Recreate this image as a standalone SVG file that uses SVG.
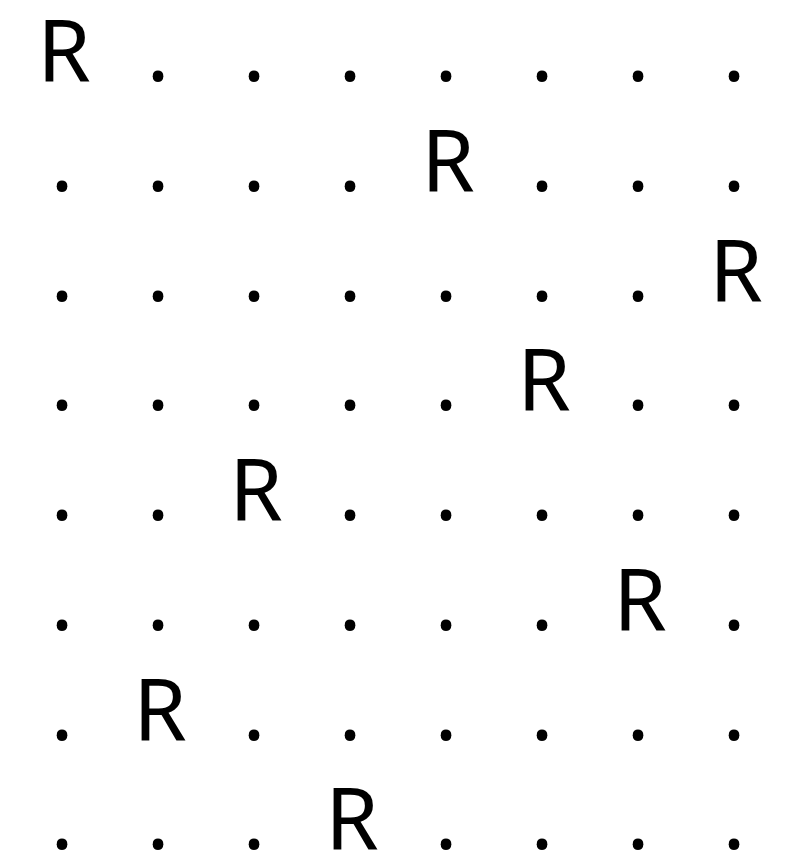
<svg xmlns="http://www.w3.org/2000/svg" width="795" height="855" viewBox="0 0 795 855">
<style>
text{font-family:"Noto Sans","Open Sans","DejaVu Sans",sans-serif;font-size:86px;fill:#000;text-anchor:middle}
</style>
<rect width="795" height="855" fill="#fff"/>
<g id="row0"><text x="64" y="81">R</text><text x="158" y="81">.</text><text x="254" y="81">.</text><text x="350" y="81">.</text><text x="446" y="81">.</text><text x="542" y="81">.</text><text x="638" y="81">.</text><text x="734" y="81">.</text></g>
<g id="row1"><text x="62" y="191">.</text><text x="158" y="191">.</text><text x="254" y="191">.</text><text x="350" y="191">.</text><text x="448" y="191">R</text><text x="542" y="191">.</text><text x="638" y="191">.</text><text x="734" y="191">.</text></g>
<g id="row2"><text x="62" y="301">.</text><text x="158" y="301">.</text><text x="254" y="301">.</text><text x="350" y="301">.</text><text x="446" y="301">.</text><text x="542" y="301">.</text><text x="638" y="301">.</text><text x="736" y="301">R</text></g>
<g id="row3"><text x="62" y="410">.</text><text x="158" y="410">.</text><text x="254" y="410">.</text><text x="350" y="410">.</text><text x="446" y="410">.</text><text x="544" y="410">R</text><text x="638" y="410">.</text><text x="734" y="410">.</text></g>
<g id="row4"><text x="62" y="520">.</text><text x="158" y="520">.</text><text x="256" y="520">R</text><text x="350" y="520">.</text><text x="446" y="520">.</text><text x="542" y="520">.</text><text x="638" y="520">.</text><text x="734" y="520">.</text></g>
<g id="row5"><text x="62" y="630">.</text><text x="158" y="630">.</text><text x="254" y="630">.</text><text x="350" y="630">.</text><text x="446" y="630">.</text><text x="542" y="630">.</text><text x="640" y="630">R</text><text x="734" y="630">.</text></g>
<g id="row6"><text x="62" y="740">.</text><text x="160" y="740">R</text><text x="254" y="740">.</text><text x="350" y="740">.</text><text x="446" y="740">.</text><text x="542" y="740">.</text><text x="638" y="740">.</text><text x="734" y="740">.</text></g>
<g id="row7"><text x="62" y="849">.</text><text x="158" y="849">.</text><text x="254" y="849">.</text><text x="352" y="849">R</text><text x="446" y="849">.</text><text x="542" y="849">.</text><text x="638" y="849">.</text><text x="734" y="849">.</text></g>
</svg>
